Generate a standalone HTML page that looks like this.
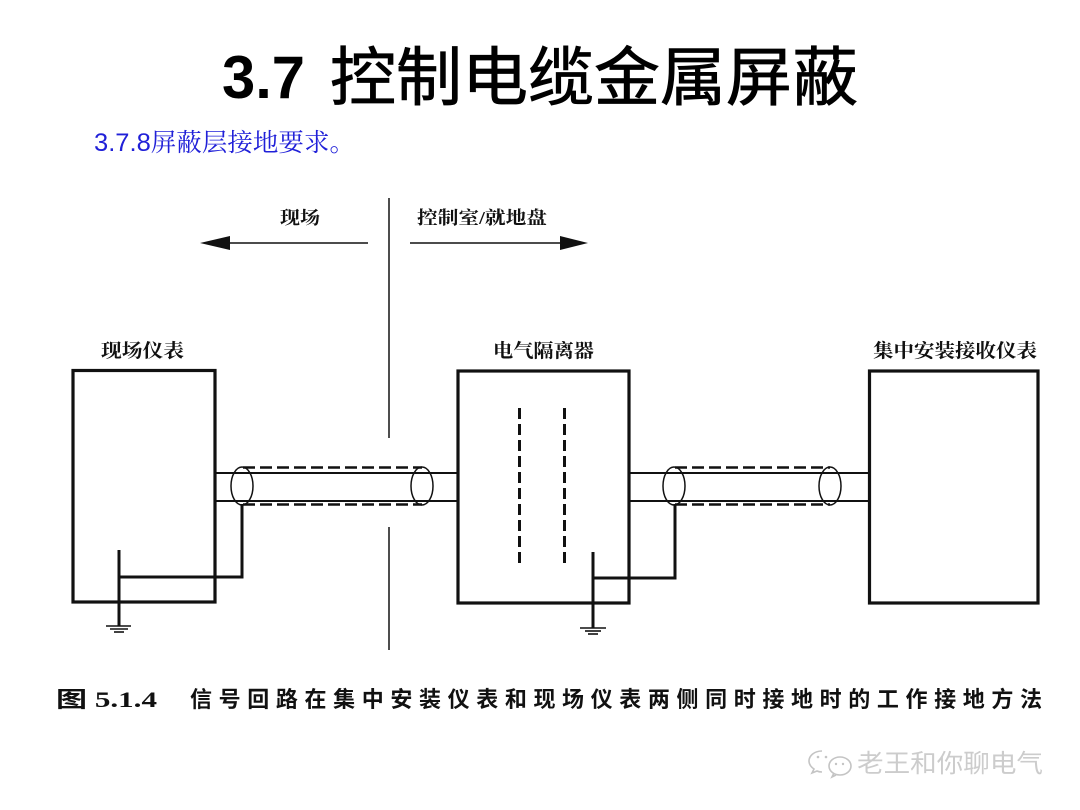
<!DOCTYPE html>
<html>
<head>
<meta charset="utf-8">
<style>
html,body{margin:0;padding:0;background:#fff;}
svg{display:block;}
</style>
</head>
<body>
<svg width="1080" height="810" viewBox="0 0 1080 810" xmlns="http://www.w3.org/2000/svg">
<rect width="1080" height="810" fill="#fff"/>
<!-- Title -->
<text x="222" y="98" font-family="Liberation Sans, sans-serif" font-weight="bold" font-size="60" fill="#000" textLength="83" lengthAdjust="spacingAndGlyphs">3.7</text>
<text x="330" y="100" font-family="'Liberation Sans','Noto Sans CJK SC',sans-serif" font-weight="normal" font-size="64" fill="#000" stroke="#000" stroke-width="0.8" textLength="528" lengthAdjust="spacingAndGlyphs">控制电缆金属屏蔽</text>
<!-- Subtitle -->
<text x="94" y="151" font-family="'Liberation Sans','Noto Serif CJK SC',serif" font-size="25" fill="#2020d8" textLength="261" lengthAdjust="spacingAndGlyphs">3.7.8屏蔽层接地要求。</text>

<!-- Region labels -->
<g font-family="'Liberation Serif','Noto Serif CJK SC',serif" font-weight="bold" font-size="18" fill="#111">
<text x="280" y="224" textLength="40" lengthAdjust="spacingAndGlyphs">现场</text>
<text x="417" y="224" textLength="130" lengthAdjust="spacingAndGlyphs">控制室/就地盘</text>
<text x="101" y="357" font-size="19" textLength="83" lengthAdjust="spacingAndGlyphs">现场仪表</text>
<text x="493" y="357" font-size="19" textLength="101" lengthAdjust="spacingAndGlyphs">电气隔离器</text>
<text x="873" y="357" font-size="19" textLength="164" lengthAdjust="spacingAndGlyphs">集中安装接收仪表</text>
</g>

<!-- Arrows -->
<g stroke="#111" stroke-width="1.5" fill="#111">
<line x1="229" y1="243" x2="368" y2="243"/>
<polygon points="200,243 230,236 230,250" stroke="none"/>
<line x1="410" y1="243" x2="561" y2="243"/>
<polygon points="588,243 560,236 560,250" stroke="none"/>
</g>

<!-- Divider -->
<g stroke="#222" stroke-width="1.6">
<line x1="389" y1="198" x2="389" y2="438"/>
<line x1="389" y1="527" x2="389" y2="650"/>
</g>

<!-- Boxes -->
<g fill="none" stroke="#111" stroke-width="3.2">
<rect x="73" y="370.5" width="142" height="231.5"/>
<rect x="458" y="371" width="171" height="232"/>
<rect x="869.5" y="371" width="168.5" height="232"/>
</g>

<!-- Isolator dashed barriers -->
<g stroke="#111" stroke-width="3" stroke-dasharray="11 5">
<line x1="519.5" y1="408" x2="519.5" y2="564"/>
<line x1="564.5" y1="408" x2="564.5" y2="564"/>
</g>

<!-- Cables -->
<g stroke="#111" stroke-width="2" fill="none">
<line x1="215" y1="473" x2="458" y2="473"/>
<line x1="215" y1="501" x2="458" y2="501"/>
<line x1="629" y1="473" x2="869" y2="473"/>
<line x1="629" y1="501" x2="869" y2="501"/>
</g>
<g stroke="#111" stroke-width="2.6" stroke-dasharray="12 5" fill="none">
<line x1="243" y1="467.5" x2="422" y2="467.5"/>
<line x1="243" y1="504.5" x2="422" y2="504.5"/>
<line x1="675" y1="467.5" x2="830" y2="467.5"/>
<line x1="675" y1="504.5" x2="830" y2="504.5"/>
</g>
<g stroke="#111" stroke-width="1.5" fill="none">
<ellipse cx="242" cy="486" rx="11" ry="19"/>
<ellipse cx="422" cy="486" rx="11" ry="19"/>
<ellipse cx="674" cy="486" rx="11" ry="19"/>
<ellipse cx="830" cy="486" rx="11" ry="19"/>
</g>

<!-- Ground wiring -->
<g stroke="#111" stroke-width="3" fill="none" stroke-linejoin="miter">
<polyline points="242,504 242,577 119,577"/>
<line x1="119" y1="550" x2="119" y2="626"/>
<polyline points="675,504 675,578 593,578"/>
<line x1="593" y1="552" x2="593" y2="628"/>
</g>
<g stroke="#111" stroke-width="1.6">
<line x1="106" y1="626" x2="131" y2="626"/>
<line x1="110" y1="629" x2="128" y2="629"/>
<line x1="114" y1="632" x2="124" y2="632"/>
<line x1="580" y1="628" x2="606" y2="628"/>
<line x1="585" y1="631" x2="601" y2="631"/>
<line x1="588" y1="634" x2="598" y2="634"/>
</g>

<!-- Caption -->
<g font-family="'Liberation Serif','Noto Sans CJK SC',sans-serif" font-weight="bold" font-size="22" fill="#111">
<text x="56" y="707" textLength="101" lengthAdjust="spacingAndGlyphs">图 5.1.4</text>
<text x="190" y="707" font-family="'Liberation Sans','Noto Sans CJK SC',sans-serif" textLength="852" lengthAdjust="spacing">信号回路在集中安装仪表和现场仪表两侧同时接地时的工作接地方法</text>
</g>

<!-- Watermark -->
<g fill="none" stroke="#c4c4c4" stroke-width="1.6">
<path d="M822 751 c-8 0 -13 5 -13 10 c0 3 2 6 5 8 l-2 4 l5 -2 c2 1 4 1 5 1"/>
<ellipse cx="840" cy="766" rx="11" ry="9"/>
<path d="M834 773 l-2 4 l4 -2"/>
</g>
<g fill="#c4c4c4">
<circle cx="818" cy="757" r="1.3"/><circle cx="826" cy="757" r="1.3"/>
<circle cx="836" cy="764" r="1.2"/><circle cx="843" cy="764" r="1.2"/>
</g>
<text x="857" y="772" font-family="'Liberation Sans','Noto Sans CJK SC',sans-serif" font-size="25" fill="#cccccc" textLength="186" lengthAdjust="spacingAndGlyphs">老王和你聊电气</text>
</svg>
</body>
</html>
